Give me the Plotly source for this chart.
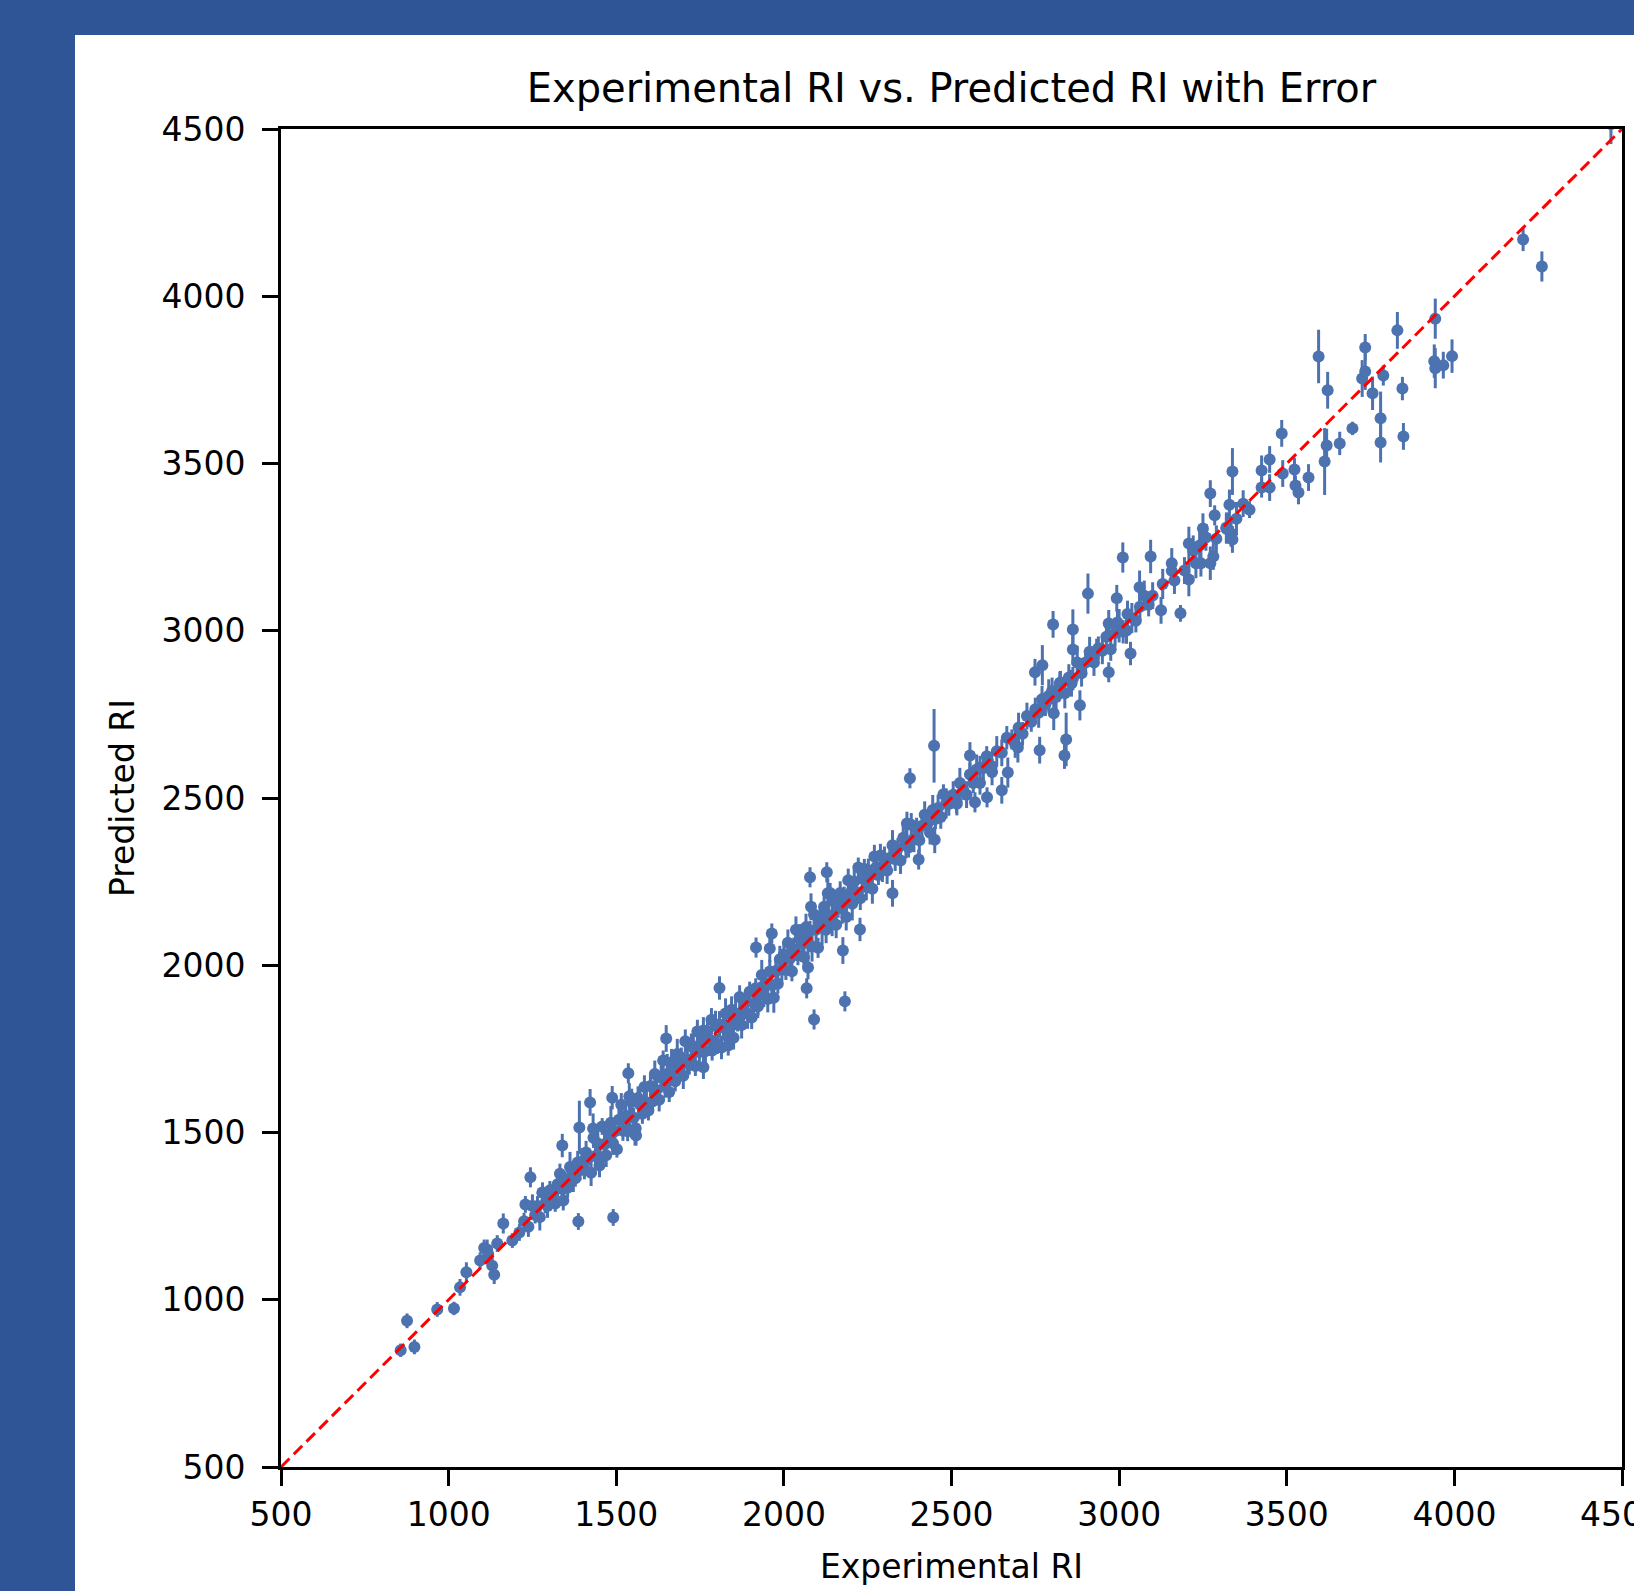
import plotly.graph_objects as go

# ---------------- data ----------------
# dense band, 1200-1400
exp_a = [1225,1238,1250,1258,1265,1272,1280,1288,1295,1302,1310,1318,1325,1332,1340,1348,1355,1362,1370,1378,1385,1392,1398]
pred_a = [1235,1218,1280,1253,1280,1247,1320,1288,1280,1327,1315,1288,1345,1377,1330,1358,1335,1397,1375,1363,1410,1387,1413]
err_a = [25,30,35,25,30,40,25,30,35,28,30,25,40,30,35,25,30,45,30,25,35,30,40]

# dense band, 1400-1600
exp_b = [1405,1410,1418,1425,1432,1438,1445,1452,1458,1465,1470,1478,1484,1490,1496,1502,1508,1515,1520,1528,1534,1540,1546,1552,1558,1565,1570,1578,1584,1590,1596]
pred_b = [1390,1440,1426,1380,1484,1430,1467,1422,1518,1465,1432,1493,1529,1468,1504,1450,1538,1583,1505,1550,1504,1548,1591,1544,1513,1603,1585,1556,1636,1590,1566]
err_b = [30,35,25,40,30,35,45,30,25,40,35,30,50,35,30,25,40,35,30,45,30,35,40,30,25,35,45,30,35,40,30]

# dense band, 1600-1800
exp_c = [1602,1608,1615,1620,1628,1634,1640,1646,1652,1658,1665,1670,1676,1682,1688,1694,1700,1706,1712,1718,1724,1730,1736,1742,1748,1754,1760,1766,1772,1778,1784,1790,1796]
pred_c = [1639,1593,1675,1627,1598,1664,1715,1639,1675,1621,1710,1685,1653,1735,1688,1724,1670,1773,1719,1703,1761,1753,1699,1802,1741,1769,1805,1743,1802,1778,1837,1760,1819]
err_c = [35,30,40,30,35,45,30,35,60,30,40,35,30,45,35,30,40,35,50,30,35,40,30,35,45,30,40,35,30,40,35,30,45]

# dense band, 1800-2000
exp_d = [1802,1808,1814,1820,1826,1832,1838,1844,1850,1856,1862,1868,1874,1880,1886,1892,1898,1904,1910,1916,1922,1928,1934,1940,1946,1952,1958,1964,1970,1976,1982,1988,1994]
pred_d = [1765,1823,1754,1813,1856,1787,1815,1867,1783,1856,1832,1905,1821,1865,1893,1855,1921,1844,1887,1931,1877,1921,1971,1910,1946,1899,1981,1941,1903,1983,1945,2018,1987]
err_d = [30,40,35,30,45,35,30,40,35,50,30,35,40,30,35,45,30,35,40,30,35,30,45,35,30,40,35,30,45,35,30,40,35]

# dense band, 2000-2300
exp_e = [2000,2006,2012,2018,2024,2030,2036,2042,2048,2054,2060,2066,2072,2078,2084,2090,2096,2102,2108,2114,2120,2126,2132,2138,2144,2150,2156,2162,2168,2174,2180,2186,2192,2198,2204,2210,2216,2222,2228,2234,2240,2246,2252,2258,2264,2270,2276,2282,2288,2294]
pred_e = [2032,1986,2067,2020,1982,2048,2106,2030,2088,2064,2025,2114,2067,2103,2056,2152,2106,2052,2140,2116,2175,2106,2150,2216,2132,2190,2121,2172,2216,2169,2205,2144,2254,2216,2184,2250,2218,2292,2200,2259,2288,2234,2284,2268,2229,2325,2294,2270,2328,2289]
err_e = [35,30,40,45,30,35,40,30,35,50,30,40,35,30,45,35,40,30,35,55,30,40,35,30,45,35,40,30,35,45,30,40,35,30,50,35,40,30,35,45,30,40,35,30,45,35,40,30,35,40]

# band, 2300-2500
exp_f = [2300,2308,2316,2324,2332,2340,2348,2356,2364,2372,2380,2388,2396,2404,2412,2420,2428,2436,2444,2452,2460,2468,2476,2484,2492]
pred_f = [2320,2283,2321,2359,2317,2350,2313,2381,2364,2352,2420,2378,2411,2374,2417,2450,2423,2396,2464,2437,2470,2443,2511,2484,2482]
err_f = [35,40,30,45,35,30,40,35,45,30,35,40,30,50,35,40,30,35,45,30,40,35,30,45,35]

# band, 2500-2800
exp_g = [2505,2515,2525,2535,2545,2555,2565,2575,2585,2595,2605,2620,2635,2650,2665,2680,2690,2700,2712,2725,2738,2750,2760,2770,2780,2790,2800]
pred_g = [2510,2490,2545,2525,2510,2570,2545,2585,2545,2590,2625,2595,2640,2635,2680,2675,2660,2710,2692,2745,2728,2765,2755,2795,2780,2805,2820]
err_g = [40,35,45,30,40,35,30,45,35,40,30,35,45,40,35,30,40,45,35,40,30,35,45,40,35,50,40]

# band, 2800-3100
exp_h = [2812,2825,2838,2850,2862,2875,2888,2900,2912,2925,2938,2950,2962,2975,2988,3000,3012,3025,3038,3050,3062,3075,3088,3100]
pred_h = [2802,2845,2813,2860,2857,2905,2873,2905,2937,2905,2948,2940,2982,2945,2993,3015,2997,3050,3038,3030,3072,3105,3078,3105]
err_h = [40,35,45,40,35,50,40,35,45,40,35,40,45,35,40,50,35,40,45,35,40,45,35,40]

# band, 3100-3400
exp_i = [3130,3165,3195,3240,3290,3320,3350,3370]
pred_i = [3140,3150,3180,3255,3275,3305,3335,3380]
err_i = [45,40,40,40,40,45,50,40]

# scattered / outlying points
exp_o = [857,876,898,966,1016,1034,1053,1094,1106,1115,1118,1130,1136,1145,1163,1190,1211,1229,1244,1280,
         1339,1342,1372,1387,1390,1422,1431,1450,1488,1491,1536,1539,1556,1559,1649,1760,1786,1808,1834,1917,
         1923,1958,1964,2068,2072,2078,2081,2090,2128,2131,2176,2182,2227,2324,2367,2376,2402,2448,2450,2516,
         2555,2570,2585,2606,2621,2650,2668,2698,2749,2763,2771,2803,2805,2823,2837,2842,2858,2862,2862,2883,
         2907,2933,2969,2969,2993,2995,3011,3022,3034,3061,3094,3125,3157,3157,3183,3208,3208,3221,3229,3244,
         3250,3259,3272,3272,3281,3285,3320,3329,3334,3338,3338,3389,3425,3425,3449,3449,3485,3488,3523,3526,
         3535,3565,3595,3613,3619,3622,3658,3696,3725,3734,3734,3756,3780,3780,3788,3830,3845,3848,3943,3940,
         3943,3967,3993,4205,4261,4467]
pred_o = [849,937,859,971,974,1037,1082,1117,1155,1150,1137,1102,1075,1168,1228,1177,1201,1285,1366,1321,
          1461,1297,1362,1234,1515,1590,1512,1401,1604,1246,1677,1608,1496,1491,1781,1695,1745,1932,1760,2053,
          1880,2050,2095,1931,1993,2263,2175,1838,2278,2215,2044,1892,2107,2215,2424,2559,2316,2656,2375,2483,
          2627,2487,2591,2502,2578,2523,2576,2651,2876,2643,2897,3019,2753,2843,2627,2675,2843,3004,2944,2777,
          3111,2941,3022,2876,3097,3025,3219,3001,2932,3130,3222,3061,3202,3179,3052,3261,3153,3240,3202,3202,
          3306,3279,3410,3202,3222,3345,3309,3377,3291,3476,3273,3362,3479,3428,3512,3428,3590,3470,3482,3434,
          3413,3458,3820,3506,3554,3719,3560,3605,3754,3847,3775,3710,3635,3563,3763,3898,3724,3581,3933,3806,
          3785,3794,3821,4170,4089,4515]
err_o = [20,22,22,22,20,25,30,25,25,30,25,30,28,25,30,22,25,25,30,30,
         35,30,40,25,80,40,45,35,35,25,30,40,35,30,40,35,30,35,30,30,
         30,40,30,30,35,30,40,30,30,45,40,30,35,40,35,30,30,110,40,35,
         40,30,35,30,40,40,45,45,40,40,60,40,50,35,40,80,40,60,45,45,
         60,35,40,30,40,40,45,40,35,50,50,40,45,40,25,50,50,45,45,40,
         45,40,40,50,40,30,45,45,40,70,40,25,45,30,40,40,40,40,35,30,
         35,40,80,100,50,55,35,20,55,40,55,50,80,60,30,55,35,40,60,50,
         60,40,50,35,45,60]

exp_ri = exp_a + exp_b + exp_c + exp_d + exp_e + exp_f + exp_g + exp_h + exp_i + exp_o
pred_ri = pred_a + pred_b + pred_c + pred_d + pred_e + pred_f + pred_g + pred_h + pred_i + pred_o
pred_err = err_a + err_b + err_c + err_d + err_e + err_f + err_g + err_h + err_i + err_o

axis_min, axis_max = 500, 4500
tick_vals = [500, 1000, 1500, 2000, 2500, 3000, 3500, 4000, 4500]

# ---------------- figure ----------------
W, H = 1634, 1591
ML, MR, MT, MB = 281, 12, 129, 124
FONT = "DejaVu Sans"
BLUE = "#4c72b0"

fig = go.Figure()

fig.add_trace(go.Scatter(
    x=exp_ri, y=pred_ri, mode="markers",
    marker=dict(color=BLUE, size=12, line=dict(width=0)),
    error_y=dict(type="data", array=pred_err, visible=True, color=BLUE, thickness=3, width=0),
    showlegend=False, cliponaxis=True,
))

fig.add_trace(go.Scatter(
    x=[axis_min, axis_max], y=[axis_min, axis_max], mode="lines",
    line=dict(color="red", width=3, dash="12px,6px"),
    showlegend=False,
))

plot_w = W - ML - MR
plot_h = H - MT - MB
panel_x0 = (75 - ML) / plot_w
panel_y1 = (H - MB - 35) / plot_h

fig.add_shape(type="rect", xref="paper", yref="paper",
              x0=panel_x0, x1=2.0, y0=-1.0, y1=panel_y1,
              fillcolor="white", line=dict(width=0), layer="below")

axis_common = dict(
    range=[axis_min, axis_max], tickvals=tick_vals, ticktext=[str(v) for v in tick_vals],
    showgrid=False, zeroline=False, showline=True, linecolor="black", linewidth=3,
    mirror=True, ticks="outside", ticklen=16, tickwidth=3, tickcolor="black",
    tickfont=dict(family=FONT, size=33, color="black"),
    ticklabeloverflow="allow",
)

fig.update_xaxes(**axis_common,
                 title=dict(text="Experimental RI", font=dict(family=FONT, size=33, color="black"), standoff=23))
fig.update_yaxes(**axis_common, ticklabelstandoff=10,
                 title=dict(text="Predicted RI", font=dict(family=FONT, size=33, color="black"), standoff=17))

fig.update_layout(
    width=W, height=H,
    margin=dict(l=ML, r=MR, t=MT, b=MB, autoexpand=False),
    paper_bgcolor="#2f5597", plot_bgcolor="white",
    title=dict(text="Experimental RI vs. Predicted RI with Error",
               font=dict(family=FONT, size=40, color="black"),
               x=0.5, xref="paper", xanchor="center",
               y=1 - 88 / H, yref="container", yanchor="middle"),
    font=dict(family=FONT),
)

fig.write_html("out.html", config={"displayModeBar": False},
               post_script="document.body.style.margin='0';document.body.style.overflow='hidden';")
